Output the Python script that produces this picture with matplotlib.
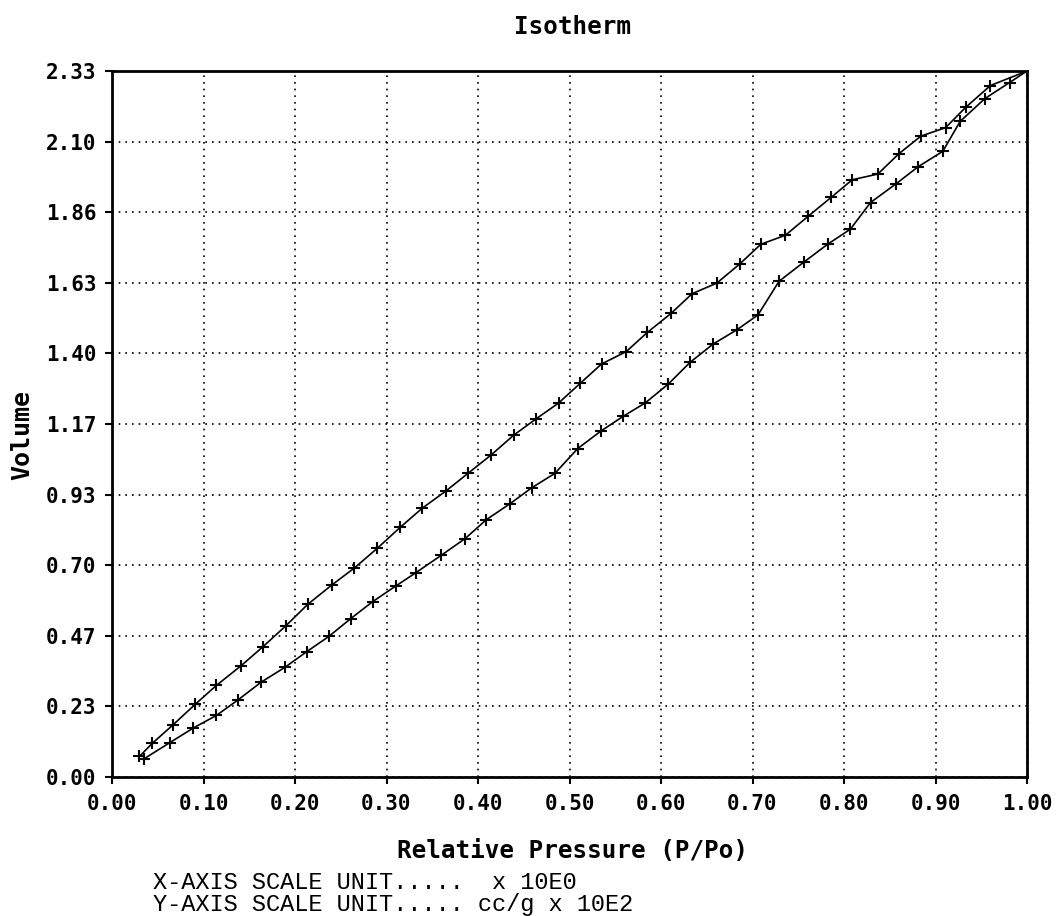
import matplotlib
matplotlib.use("Agg")
import matplotlib.pyplot as plt
import numpy as np

# upper branch
upper_x = [0.030, 0.044, 0.067, 0.091, 0.114, 0.141, 0.165, 0.190, 0.214, 0.240,
           0.265, 0.290, 0.315, 0.339, 0.365, 0.389, 0.414, 0.439, 0.463, 0.488,
           0.512, 0.535, 0.562, 0.585, 0.611, 0.634, 0.661, 0.686, 0.709, 0.736,
           0.761, 0.786, 0.809, 0.837, 0.860, 0.884, 0.911, 0.933, 0.960, 1.000]
upper_y = [0.068, 0.111, 0.173, 0.240, 0.302, 0.367, 0.430, 0.499, 0.570, 0.633,
           0.690, 0.755, 0.824, 0.887, 0.944, 1.002, 1.062, 1.128, 1.181, 1.234,
           1.300, 1.363, 1.404, 1.467, 1.530, 1.595, 1.630, 1.693, 1.758, 1.788,
           1.851, 1.913, 1.971, 1.990, 2.057, 2.115, 2.143, 2.210, 2.282, 2.330]

# lower branch
lower_x = [0.035, 0.063, 0.089, 0.114, 0.138, 0.163, 0.189, 0.213, 0.237, 0.261,
           0.285, 0.310, 0.332, 0.360, 0.386, 0.409, 0.435, 0.459, 0.484, 0.509,
           0.534, 0.559, 0.583, 0.608, 0.632, 0.657, 0.683, 0.706, 0.729, 0.756,
           0.782, 0.807, 0.829, 0.857, 0.881, 0.908, 0.927, 0.954, 0.981, 1.000]
lower_y = [0.060, 0.113, 0.162, 0.203, 0.255, 0.313, 0.362, 0.414, 0.464, 0.523,
           0.579, 0.630, 0.674, 0.732, 0.787, 0.849, 0.902, 0.955, 1.002, 1.084,
           1.141, 1.191, 1.235, 1.297, 1.369, 1.429, 1.476, 1.525, 1.636, 1.699,
           1.758, 1.808, 1.896, 1.958, 2.014, 2.065, 2.164, 2.239, 2.292, 2.330]

x_ticks = [0.0, 0.1, 0.2, 0.3, 0.4, 0.5, 0.6, 0.7, 0.8, 0.9, 1.0]
y_max = 2.33
y_labels = ["0.00", "0.23", "0.47", "0.70", "0.93", "1.17",
            "1.40", "1.63", "1.86", "2.10", "2.33"]

mono = "DejaVu Sans Mono"

fig = plt.figure(figsize=(10.58, 9.16), dpi=100)
ax = fig.add_axes([112 / 1058, 1 - 777 / 916, 915 / 1058, 706 / 916])

ax.plot(upper_x, upper_y, color="black", lw=1.2, marker="+", ms=8, mew=1.5)
ax.plot(lower_x, lower_y, color="black", lw=1.2, marker="+", ms=8, mew=1.5)

ax.set_xlim(0, 1)
ax.set_ylim(0, y_max)
ax.set_xticks(x_ticks)
ax.set_xticklabels([f"{v:.2f}" for v in x_ticks], fontfamily=mono,
                   fontweight="bold", fontsize=15)
ax.set_yticks(np.arange(11) * y_max / 10)
ax.set_yticklabels(y_labels, fontfamily=mono, fontweight="bold", fontsize=15)
ax.tick_params(direction="out", length=5, width=1.5, color="black")
ax.tick_params(axis="x", pad=7)
ax.tick_params(axis="y", pad=6)

ax.grid(True, color="black", linestyle=(0, (1, 3)), linewidth=1.2)
for s in ax.spines.values():
    s.set_linewidth(2)
    s.set_color("black")

fig.text(0.541, 0.971, "Isotherm", ha="center", va="center",
         fontfamily=mono, fontweight="bold", fontsize=17.5)
fig.text(0.021, 0.525, "Volume", ha="center", va="center", rotation=90,
         fontfamily=mono, fontweight="bold", fontsize=18)
fig.text(0.541, 0.071, "Relative Pressure (P/Po)", ha="center", va="center",
         fontfamily=mono, fontweight="bold", fontsize=17.5)
fig.text(0.1446, 0.037, "X-AXIS SCALE UNIT.....  x 10E0", ha="left", va="center",
         fontfamily="Liberation Mono", fontsize=17)
fig.text(0.1446, 0.013, "Y-AXIS SCALE UNIT..... cc/g x 10E2", ha="left", va="center",
         fontfamily="Liberation Mono", fontsize=17)

fig.savefig("out.png", dpi=100)
